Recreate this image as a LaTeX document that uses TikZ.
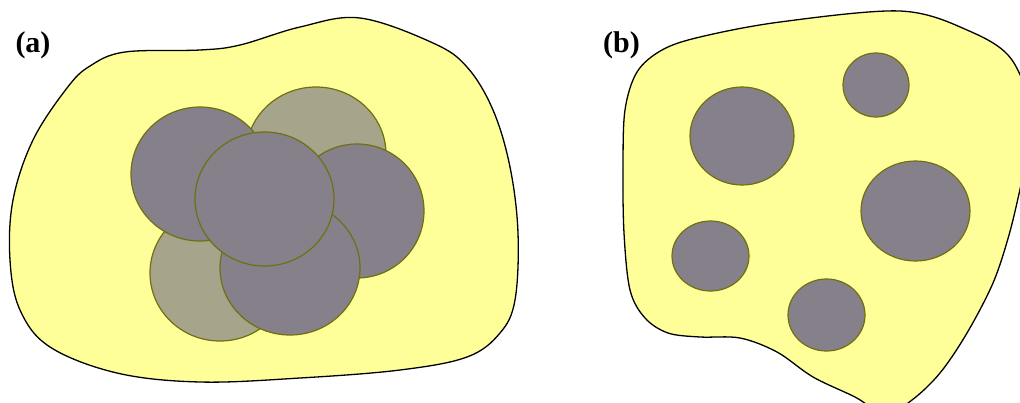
\documentclass[tikz,border=0pt]{standalone}
\usepackage{fontspec}
\setmainfont{Liberation Serif}
\definecolor{blobyellow}{RGB}{255,255,153}
\definecolor{graindark}{RGB}{133,128,137}
\definecolor{grainolive}{RGB}{166,164,138}
\definecolor{grainedge}{RGB}{112,112,16}
\begin{document}
\begin{tikzpicture}[x=1pt,y=-1pt,
  blob/.style={draw=black, line width=1.3pt, fill=blobyellow},
  grain/.style={draw=grainedge, line width=1.2pt, fill=graindark},
  faint/.style={draw=grainedge, line width=1.2pt, fill=grainolive},
  lbl/.style={font=\fontsize{30}{31}\selectfont\bfseries, inner sep=0pt}]
\useasboundingbox (0,0) rectangle (1020,402);
\fill[white] (0,0) rectangle (1020,402);
\clip (0,0) rectangle (1020,402);
% panel (a) matrix
\draw[blob] plot[smooth cycle, tension=0.6] coordinates {
  (360,18) (433,43) (467,67) (493,110) (510,167) (518,233) (515,300)
  (500,333) (467,357) (400,370) (300,378) (200,382) (117,373) (50,347)
  (20,310) (10,260) (13,200) (33,140) (67,88) (90,66) (125,52) (200,50)
  (240,45) (300,27)};
% clustered particles
\draw[faint] (316,154) ellipse [x radius=70, y radius=67];
\draw[faint] (220,273) ellipse [x radius=70, y radius=68];
\draw[grain] (200,174) ellipse [x radius=69, y radius=67];
\draw[grain] (357,211) ellipse [x radius=67, y radius=67];
\draw[grain] (290,268) ellipse [x radius=70, y radius=67];
\draw[grain] (264.5,199) ellipse [x radius=69.5, y radius=67];
% panel (b) matrix
\draw[blob] plot[smooth cycle, tension=0.55] coordinates {
  (625,110) (637,72) (662,50) (700,37) (780,22) (900,11) (967,30)
  (1012,60) (1034,125) (1021,185) (1009,235) (993,283) (967,333)
  (940,373) (912,400) (885,414) (855,397) (813,377) (777,352) (740,338) (700,337)
  (668,333) (645,318) (630,290) (624,233) (623,167)};
% dispersed particles
\draw[grain] (742,136) ellipse [x radius=52, y radius=49];
\draw[grain] (876,85) ellipse [x radius=33, y radius=32];
\draw[grain] (915.5,211) ellipse [x radius=54.5, y radius=50];
\draw[grain] (710.5,256) ellipse [x radius=38.5, y radius=35];
\draw[grain] (826.5,315) ellipse [x radius=38.5, y radius=36];
% labels
\node[lbl] (la) at (33,45.5) {(a)};
\node[lbl] (lb) at (621.5,45.5) {(b)};
\end{tikzpicture}
\end{document}
